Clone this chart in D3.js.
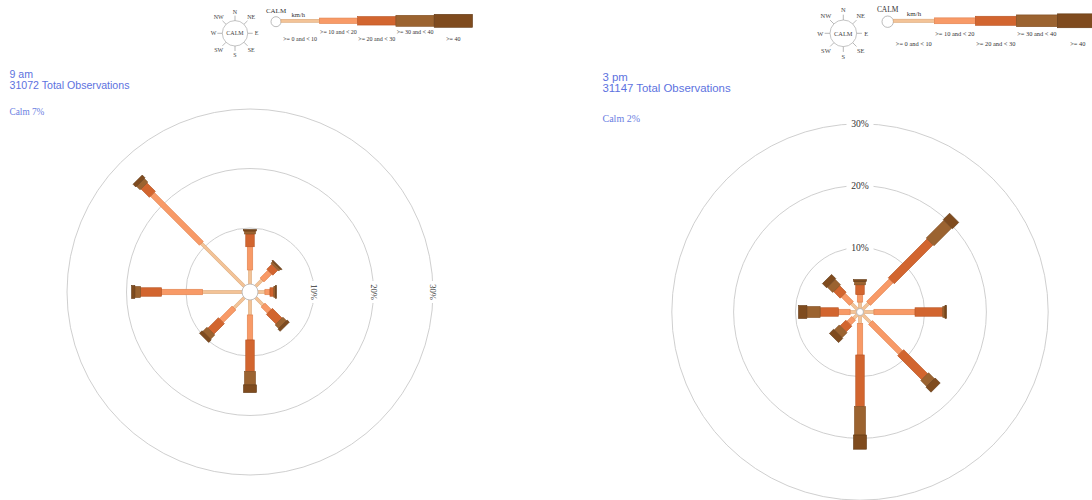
<!DOCTYPE html>
<html>
<head>
<meta charset="utf-8">
<script src="https://cdn.jsdelivr.net/npm/d3@7"></script>
<style>
  html, body { margin: 0; padding: 0; background: #fff; }
  svg { display: block; }
</style>
</head>
<body>
<div id="chart"></div>
<script>
// Wind directions (clockwise from north) and speed classes in km/h
const directions = ["N", "NE", "E", "SE", "S", "SW", "W", "NW"];
const speedBins = [">= 0 and < 10", ">= 10 and < 20", ">= 20 and < 30", ">= 30 and < 40", ">= 40"];
const ringTicks = [10, 20, 30];

// 9 am: percentage of observations per direction, one array per speed class
const am9Speed0 = [2.95, 2.1, 1.75, 2.35, 3.1, 3.05, 7.2, 10.8];
const am9Speed10 = [3.9, 1.85, 0.85, 1.5, 4.2, 3.0, 6.9, 11.65];
const am9Speed20 = [2.15, 1.2, 0.65, 2.3, 5.3, 2.5, 3.55, 2.0];
const am9Speed30 = [0.5, 0.4, 0.3, 0.85, 2.25, 1.0, 0.95, 0.85];
const am9Speed40 = [0.25, 0.2, 0.15, 0.5, 1.3, 0.6, 0.55, 0.65];
const am9Calm = 7;
const am9Total = 31072;

// 3 pm: percentage of observations per direction, one array per speed class
const pm3Speed0 = [1.15, 1.5, 1.8, 1.95, 1.4, 1.0, 1.15, 1.5];
const pm3Speed10 = [1.2, 5.2, 6.65, 6.9, 5.1, 1.1, 1.9, 1.9];
const pm3Speed20 = [1.6, 8.9, 4.5, 5.5, 8.35, 1.3, 2.95, 1.5];
const pm3Speed30 = [0.55, 4.05, 0.35, 1.35, 4.6, 1.15, 2.15, 1.25];
const pm3Speed40 = [0.3, 1.45, 0.25, 1.15, 2.3, 0.95, 1.35, 0.95];
const pm3Calm = 2;
const pm3Total = 31147;

// Styling per speed class
const barWidths = [3, 5.5, 8.5, 11, 13];
const fills = ["#f3c397", "#f89a67", "#d2652f", "#9b6330", "#7f4b1e"];
const strokes = ["#dba777", "#e0804c", "#b65222", "#7f4d21", "#623914"];
const compassAngles = [0, 45, 90, 135, 180, 225, 270, 315];

const W = 1092, H = 500;
const svg = d3.select("#chart").append("svg")
  .attr("width", W).attr("height", H)
  .attr("viewBox", `0 0 ${W} ${H}`);

function buildRows(arrays) {
  return directions.map((dir, i) => {
    const row = { dir };
    speedBins.forEach((bin, j) => { row[bin] = arrays[j][i]; });
    return row;
  });
}

function drawLegend(g, L) {
  const s = L.s;
  // compass
  const comp = g.append("g").attr("transform", `translate(${L.cx},${L.cy})`);
  comp.append("circle").attr("r", L.compR)
    .attr("fill", "#fff").attr("stroke", "#b5b5b5").attr("stroke-width", 0.8);
  comp.selectAll("line.tick").data(compassAngles).join("line")
    .attr("class", "tick")
    .attr("x1", a => Math.sin(a * Math.PI / 180) * L.compR)
    .attr("y1", a => -Math.cos(a * Math.PI / 180) * L.compR)
    .attr("x2", a => Math.sin(a * Math.PI / 180) * (L.compR + 5 * s))
    .attr("y2", a => -Math.cos(a * Math.PI / 180) * (L.compR + 5 * s))
    .attr("stroke", "#999").attr("stroke-width", 0.7);
  comp.selectAll("text.dir").data(directions).join("text")
    .attr("class", "dir")
    .attr("x", (d, i) => Math.sin(compassAngles[i] * Math.PI / 180) * (i % 2 ? 23 * s : 21.5 * s))
    .attr("y", (d, i) => -Math.cos(compassAngles[i] * Math.PI / 180) * (i % 2 ? 23 * s : 21.8 * s))
    .attr("text-anchor", "middle").attr("dominant-baseline", "central")
    .attr("font-family", "Liberation Serif, serif").attr("font-size", 6 * s)
    .attr("fill", "#444").text(d => d);
  comp.append("text").attr("text-anchor", "middle").attr("dominant-baseline", "central")
    .attr("font-family", "Liberation Serif, serif").attr("font-size", 6 * s)
    .attr("fill", "#444").text("CALM");

  // calm marker and unit
  g.append("circle").attr("cx", L.calmX).attr("cy", L.calmY).attr("r", L.calmR)
    .attr("fill", "#fff").attr("stroke", "#aaa").attr("stroke-width", 0.8);
  g.append("text").attr("x", L.calmX).attr("y", L.calmLabelY)
    .attr("text-anchor", "middle").attr("dominant-baseline", "central")
    .attr("font-family", "Liberation Serif, serif").attr("font-size", 7 * s)
    .attr("fill", "#333").text("CALM");
  g.append("text").attr("x", L.kmhX).attr("y", L.kmhY)
    .attr("text-anchor", "middle").attr("dominant-baseline", "central")
    .attr("font-family", "Liberation Serif, serif").attr("font-size", 6.5 * s)
    .attr("fill", "#333").text("km/h");

  // speed class bars
  const x = d3.scaleBand().domain(speedBins)
    .range([L.barX0, L.barX0 + L.barUnit * speedBins.length]).padding(0);
  g.selectAll("rect.key").data(speedBins).join("rect")
    .attr("class", "key")
    .attr("x", d => x(d))
    .attr("y", (d, i) => L.barCY - barWidths[i] * s / 2)
    .attr("width", x.bandwidth())
    .attr("height", (d, i) => barWidths[i] * s)
    .attr("fill", (d, i) => fills[i])
    .attr("stroke", (d, i) => strokes[i]).attr("stroke-width", 0.6);
  g.selectAll("text.key").data(speedBins).join("text")
    .attr("class", "key")
    .attr("x", d => x(d) + x.bandwidth() / 2)
    .attr("y", (d, i) => L.labelYs[i % 2])
    .attr("text-anchor", "middle").attr("dominant-baseline", "central")
    .attr("font-family", "Liberation Serif, serif").attr("font-size", L.labelFont)
    .attr("fill", "#333").text(d => d);
}

function drawPanel(P) {
  const g = svg.append("g");
  drawLegend(g, P.legend);

  // headings
  const title = g.append("text")
    .attr("font-family", "Liberation Sans, Arial, sans-serif")
    .attr("font-size", P.titleSize).attr("fill", "#5d72e0");
  title.append("tspan").attr("x", P.titleX).attr("y", P.titleY).text(P.title);
  title.append("tspan").attr("x", P.titleX).attr("y", P.titleY + P.lineGap)
    .text(`${P.total} Total Observations`);
  g.append("text").attr("x", P.titleX).attr("y", P.calmY)
    .attr("font-family", "Liberation Serif, serif").attr("font-size", P.calmSize)
    .attr("fill", "#6a7ee2").text(`Calm ${P.calm}%`);

  const r = d3.scaleLinear().domain([0, 30]).range([P.r0, P.r0 + 30 * P.k]);
  const rose = g.append("g").attr("transform", `translate(${P.cx},${P.cy})`);

  // percentage rings
  rose.selectAll("circle.ring").data(ringTicks).join("circle")
    .attr("class", "ring").attr("r", d => r(d))
    .attr("fill", "none").attr("stroke", "#c9c9c9").attr("stroke-width", 0.9);

  // stacked bars, one per direction
  const rows = buildRows(P.series);
  const stacked = d3.stack().keys(speedBins)(rows);
  const angle = d3.scalePoint().domain(directions).range([0, 315]);
  stacked.forEach((layer, j) => {
    rose.selectAll(`rect.seg${j}`).data(layer).join("rect")
      .attr("class", `seg${j}`)
      .attr("transform", d => `rotate(${angle(d.data.dir)})`)
      .attr("x", -barWidths[j] / 2)
      .attr("y", d => -r(d[1]))
      .attr("width", barWidths[j])
      .attr("height", d => r(d[1]) - r(d[0]))
      .attr("fill", fills[j])
      .attr("stroke", strokes[j]).attr("stroke-width", 0.6);
  });

  // calm circle at the centre
  rose.append("circle").attr("r", P.calmR)
    .attr("fill", "#fff").attr("stroke", "#b0b0b0").attr("stroke-width", 0.8);

  // ring labels with a gap in the ring behind them
  const lab = rose.selectAll("g.rlab").data(ringTicks).join("g")
    .attr("class", "rlab")
    .attr("transform", d => P.ringLabelSide === "east"
      ? `translate(${r(d)},0) rotate(90)`
      : `translate(0,${-r(d)})`);
  lab.append("rect")
    .attr("x", -P.ringGap / 2).attr("y", -5).attr("width", P.ringGap).attr("height", 10)
    .attr("fill", "#fff");
  lab.append("text")
    .attr("text-anchor", "middle").attr("dominant-baseline", "central")
    .attr("font-family", "Liberation Serif, serif").attr("font-size", P.ringFont)
    .attr("fill", "#333").text(d => `${d}%`);
}

drawPanel({
  title: "9 am", total: am9Total, calm: am9Calm,
  series: [am9Speed0, am9Speed10, am9Speed20, am9Speed30, am9Speed40],
  titleX: 9.5, titleY: 78.3, lineGap: 10.2, titleSize: 10.6, calmY: 115, calmSize: 9.3,
  cx: 250, cy: 292, r0: 4.5, k: 5.95, calmR: 8,
  ringLabelSide: "east", ringFont: 8.6, ringGap: 22,
  legend: { cx: 235, cy: 33.3, compR: 12.7, s: 1, calmX: 276, calmY: 21.7, calmR: 5,
            calmLabelY: 10.7, kmhX: 298.3, kmhY: 14.5, barX0: 281, barUnit: 38.3, barCY: 20.8,
            labelYs: [39, 32.3], labelFont: 6 }
});

drawPanel({
  title: "3 pm", total: pm3Total, calm: pm3Calm,
  series: [pm3Speed0, pm3Speed10, pm3Speed20, pm3Speed30, pm3Speed40],
  titleX: 602.5, titleY: 80.7, lineGap: 11, titleSize: 11.4, calmY: 121.5, calmSize: 10,
  cx: 860, cy: 312, r0: 2.8, k: 6.18, calmR: 3.5,
  ringLabelSide: "north", ringFont: 9.6, ringGap: 27,
  legend: { cx: 843.3, cy: 33.3, compR: 13.3, s: 1.07, calmX: 887.7, calmY: 21.7, calmR: 5.7,
            calmLabelY: 9.3, kmhX: 914, kmhY: 13.8, barX0: 893.3, barUnit: 41, barCY: 20.8,
            labelYs: [43.3, 33.3], labelFont: 6.4 }
});
</script>
</body>
</html>
